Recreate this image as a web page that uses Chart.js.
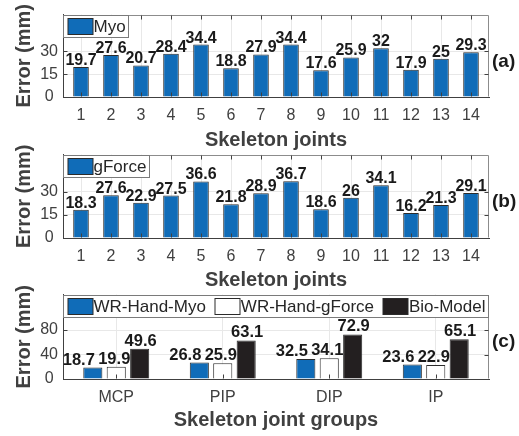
<!DOCTYPE html>
<html>
<head>
<meta charset="utf-8">
<script src="https://cdn.jsdelivr.net/npm/chart.js@4.4.1/dist/chart.umd.min.js"></script>
<style>
  html, body { margin: 0; padding: 0; background: #fff; }
  #wrap { position: relative; width: 519px; height: 436px; overflow: hidden; }
  canvas { position: absolute; left: 0; }
</style>
</head>
<body>
<div id="wrap">
  <canvas id="chartA" width="519" height="150" style="top:0px"></canvas>
  <canvas id="chartB" width="519" height="150" style="top:140px"></canvas>
  <canvas id="chartC" width="519" height="156" style="top:280px"></canvas>
</div>
<script>
const joints = ['1', '2', '3', '4', '5', '6', '7', '8', '9', '10', '11', '12', '13', '14'];
const myoErrors = [19.7, 27.6, 20.7, 28.4, 34.4, 18.8, 27.9, 34.4, 17.6, 25.9, 32, 17.9, 25, 29.3];
const gforceErrors = [18.3, 27.6, 22.9, 27.5, 36.6, 21.8, 28.9, 36.7, 18.6, 26, 34.1, 16.2, 21.3, 29.1];
const jointTicks = [0, 15, 30];

const jointGroups = ['MCP', 'PIP', 'DIP', 'IP'];
const groupMyo = [18.7, 26.8, 32.5, 23.6];
const groupGforce = [19.9, 25.9, 34.1, 22.9];
const groupBio = [49.6, 63.1, 72.9, 65.1];
const groupTicks = [0, 40, 80];

const FAMILY = '"Liberation Sans", Arial, Helvetica, sans-serif';
const BLUE = '#106cb8';
const AXIS = '#404040';

// draws the box, inner tick marks, legend, value labels and the (a)/(b)/(c) tag
const panelDecor = {
    id: 'panelDecor',
    afterDatasetsDraw(chart, args, opts) {
        const { ctx, chartArea: ca } = chart;
        const L = Math.round(ca.left) + 0.5, R = Math.round(ca.right) - 0.5;
        const T = Math.round(ca.top) + 0.5, B = Math.round(ca.bottom) - 0.5;
        ctx.save();

        // value labels
        ctx.font = 'bold ' + opts.valueSize + 'px ' + FAMILY;
        ctx.fillStyle = '#1a1a1a';
        ctx.textAlign = 'center';
        ctx.textBaseline = 'alphabetic';
        chart.data.datasets.forEach((ds, i) => {
            const shift = (opts.valueShift || [])[i] || 0;
            chart.getDatasetMeta(i).data.forEach((bar, j) => {
                const d = ds.data[j];
                const v = typeof d === 'object' ? d.y : d;
                ctx.fillText(String(v), bar.x + shift, bar.y - opts.valueGap);
            });
        });

        // top / right frame
        ctx.lineWidth = 1;
        ctx.strokeStyle = '#8c8c8c';
        ctx.beginPath();
        ctx.moveTo(L, T); ctx.lineTo(R, T); ctx.lineTo(R, B);
        ctx.stroke();

        // tick marks pointing inwards
        ctx.strokeStyle = AXIS;
        ctx.beginPath();
        const xs = chart.scales.x, ys = chart.scales.y;
        xs.ticks.forEach((t, i) => {
            const px = Math.round(xs.getPixelForTick(i)) + 0.5;
            ctx.moveTo(px, B); ctx.lineTo(px, B - 4);
            ctx.moveTo(px, T); ctx.lineTo(px, T + 4);
        });
        ys.ticks.forEach(t => {
            const py = Math.round(ys.getPixelForValue(t.value)) + 0.5;
            ctx.moveTo(L, py); ctx.lineTo(L + 4, py);
            ctx.moveTo(R, py); ctx.lineTo(R - 4, py);
        });
        ctx.stroke();

        // legend
        ctx.font = opts.legendSize + 'px ' + FAMILY;
        const items = chart.data.datasets.map(ds => ({
            label: ds.label, fill: ds.backgroundColor, stroke: ds.borderColor,
            w: ctx.measureText(ds.label).width
        }));
        const sw = 25, sh = 16;
        const used = items.reduce((s, it) => s + sw + 1 + it.w, 0);
        const boxW = opts.legendFull ? (R - L) : used + 7;
        const gap = items.length > 1 ? (boxW - 7 - used) / (items.length - 1) : 0;
        const boxH = 22;
        ctx.fillStyle = '#fff';
        ctx.fillRect(L, T, boxW, boxH);
        ctx.strokeStyle = '#7a7a7a';
        ctx.strokeRect(L, T, Math.round(boxW), boxH);
        let cx = L + 4;
        ctx.textAlign = 'left';
        ctx.textBaseline = 'middle';
        items.forEach(it => {
            ctx.fillStyle = it.fill;
            ctx.fillRect(Math.round(cx), T + 3, sw, sh);
            ctx.strokeStyle = it.stroke;
            ctx.strokeRect(Math.round(cx), T + 3, sw, sh);
            ctx.fillStyle = '#262626';
            ctx.fillText(it.label, cx + sw + 1, T + boxH / 2 + 1);
            cx += sw + 1 + it.w + gap;
        });

        // panel tag
        ctx.font = 'bold 19px ' + FAMILY;
        ctx.fillStyle = '#1a1a1a';
        ctx.textAlign = 'left';
        ctx.textBaseline = 'middle';
        ctx.fillText(opts.tag, ca.right + 3, 62);
        ctx.restore();
    }
};

function makePanel(id, labels, datasets, yMax, yTicks, opts, xScale) {
    const tickFont = { family: FAMILY, size: 16 };
    const titleFont = { family: FAMILY, size: 20, weight: 'bold', lineHeight: 1 };
    const x = Object.assign({
        grid: { offset: false, color: '#e8e8e8', drawTicks: false },
        border: { color: AXIS },
        title: {
            display: true, text: opts.xTitle, font: titleFont, color: AXIS,
            padding: { top: 0, bottom: opts.xTitlePad }
        },
        afterFit: s => { s.height = opts.xHeight; }
    }, xScale);
    x.ticks = Object.assign({ font: tickFont, color: AXIS, padding: 9, maxRotation: 0, autoSkip: false }, xScale.ticks || {});
    return new Chart(document.getElementById(id), {
        type: 'bar',
        data: { labels, datasets },
        options: {
            responsive: false,
            animation: false,
            layout: { padding: { left: 0, right: 30, top: 13, bottom: 0 } },
            plugins: {
                legend: { display: false },
                tooltip: { enabled: false },
                panelDecor: opts
            },
            scales: {
                x,
                y: {
                    min: 0,
                    max: yMax,
                    afterBuildTicks: s => { s.ticks = yTicks.map(v => ({ value: v })); },
                    grid: { color: '#e8e8e8', drawTicks: false },
                    border: { color: AXIS },
                    ticks: { font: tickFont, color: AXIS, padding: 5, crossAlign: 'center' },
                    title: {
                        display: true, text: 'Error (mm)', font: titleFont, color: AXIS,
                        padding: { top: 14, bottom: 0 }
                    },
                    afterFit: s => { s.width = 63; }
                }
            }
        },
        plugins: [panelDecor]
    });
}

// joints on a numeric axis so the limits match 0.4 .. 14.6
const jointScale = {
    type: 'linear',
    offset: false,
    min: 0.4,
    max: 14.6,
    afterBuildTicks: s => { s.ticks = joints.map((j, i) => ({ value: i + 1 })); },
    ticks: { callback: v => joints[v - 1] }
};
const toPoints = vals => vals.map((v, i) => ({ x: i + 1, y: v }));
const singleBar = { backgroundColor: BLUE, borderColor: '#2b2b2b', borderWidth: 1, categoryPercentage: 1, barPercentage: 0.52 };

makePanel('chartA', joints, [{ label: 'Myo', data: toPoints(myoErrors), ...singleBar }], 54, jointTicks,
    { tag: '(a)', xTitle: 'Skeleton joints', xHeight: 53, xTitlePad: 0, valueSize: 16, valueGap: 2,
      legendSize: 17, legendFull: false }, jointScale);

makePanel('chartB', joints, [{ label: 'gForce', data: toPoints(gforceErrors), ...singleBar }], 54, jointTicks,
    { tag: '(b)', xTitle: 'Skeleton joints', xHeight: 52, xTitlePad: 0, valueSize: 16, valueGap: 2,
      legendSize: 17, legendFull: false }, jointScale);

const groupBar = { borderColor: '#2b2b2b', borderWidth: 1, categoryPercentage: 0.66, barPercentage: 0.815 };
makePanel('chartC', jointGroups, [
    { label: 'WR-Hand-Myo', data: groupMyo, backgroundColor: BLUE, ...groupBar },
    { label: 'WR-Hand-gForce', data: groupGforce, backgroundColor: '#ffffff', ...groupBar },
    { label: 'Bio-Model', data: groupBio, backgroundColor: '#231f20', ...groupBar }
], 138, groupTicks,
    { tag: '(c)', xTitle: 'Skeleton joint groups', xHeight: 57, xTitlePad: 6, valueSize: 16.5, valueGap: 3,
      valueShift: [-14, -2, 1], legendSize: 17, legendFull: true },
    { type: 'category', offset: true });
</script>
</body>
</html>
